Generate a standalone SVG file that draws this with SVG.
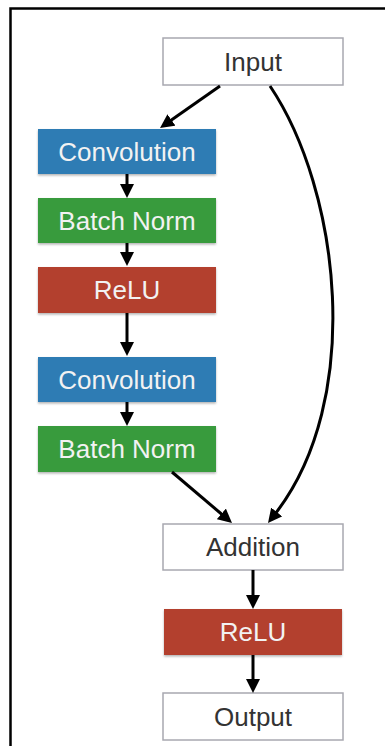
<svg xmlns="http://www.w3.org/2000/svg" width="385" height="746" viewBox="0 0 385 746">
<defs>
<marker id="ah" markerUnits="userSpaceOnUse" markerWidth="14" markerHeight="14" viewBox="0 0 14 14" refX="4" refY="7" orient="auto">
<path d="M0,0 L14,7 L0,14 z" fill="#000"/>
</marker>
<filter id="sh" x="-10%" y="-20%" width="120%" height="150%">
<feDropShadow dx="0" dy="1.5" stdDeviation="1.2" flood-color="#000" flood-opacity="0.3"/>
</filter>
</defs>
<style>
.plain{fill:#fff;stroke:#a8a8b0;stroke-width:1.5}
.blue{fill:#2e7bb4;filter:url(#sh)}
.green{fill:#379b3c;filter:url(#sh)}
.red{fill:#b3412f;filter:url(#sh)}
text{font-family:"Liberation Sans",Arial,sans-serif;font-size:26px;text-anchor:middle}
.dark{fill:#333}
.light{fill:#f2f2f2}
.conn{fill:none;stroke:#000;stroke-width:3;marker-end:url(#ah)}
</style>
<rect x="10.5" y="8.5" width="420" height="780" fill="#fff" stroke="#000" stroke-width="2.5"/>

<g id="input"><rect class="plain" x="163" y="38" width="180" height="47"/><text class="dark" x="253" y="71">Input</text></g>
<g id="conv1"><rect class="blue" x="38" y="129" width="178" height="45"/><text class="light" x="127" y="161">Convolution</text></g>
<g id="bn1"><rect class="green" x="38" y="198" width="178" height="45"/><text class="light" x="127" y="230">Batch Norm</text></g>
<g id="relu1"><rect class="red" x="38" y="267" width="178" height="46"/><text class="light" x="127" y="299">ReLU</text></g>
<g id="conv2"><rect class="blue" x="38" y="357" width="178" height="45"/><text class="light" x="127" y="389">Convolution</text></g>
<g id="bn2"><rect class="green" x="38" y="426" width="178" height="46"/><text class="light" x="127" y="458">Batch Norm</text></g>
<g id="addition"><rect class="plain" x="163" y="524" width="180" height="46"/><text class="dark" x="253" y="556">Addition</text></g>
<g id="relu2"><rect class="red" x="164" y="609" width="178" height="46"/><text class="light" x="253" y="641">ReLU</text></g>
<g id="output"><rect class="plain" x="163" y="693" width="180" height="47"/><text class="dark" x="253" y="726">Output</text></g>

<g id="connectors">
<path class="conn" d="M220,86 L168.2,122.3"/>
<path class="conn" d="M270,86 C340,190 365,400 274.2,515.1"/>
<path class="conn" d="M127,174 L127,188"/>
<path class="conn" d="M127,243 L127,256"/>
<path class="conn" d="M127,313 L127,346"/>
<path class="conn" d="M127,402 L127,416"/>
<path class="conn" d="M172,472 L224.4,516.5"/>
<path class="conn" d="M253,570 L253,599"/>
<path class="conn" d="M253,655 L253,683"/>
</g>
</svg>
